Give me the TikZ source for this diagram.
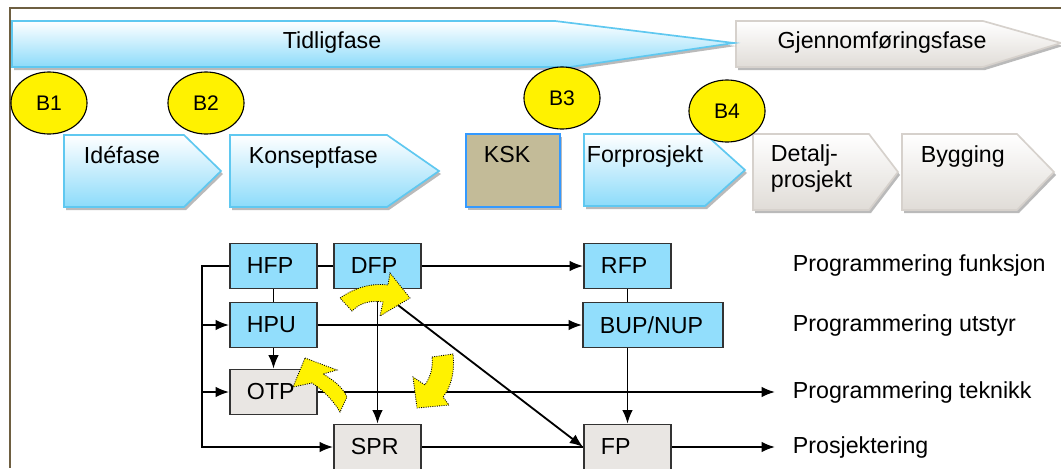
\documentclass[tikz,border=0pt]{standalone}
\usepackage{fontspec}
\setmainfont{Liberation Sans}
\usetikzlibrary{arrows.meta,shapes.geometric,shadows}

\definecolor{phasefill}{RGB}{140,219,250}
\definecolor{phaseline}{RGB}{95,200,240}
\definecolor{greyfill}{RGB}{224,220,215}
\definecolor{greyline}{RGB}{214,209,204}
\definecolor{boxblue}{RGB}{146,222,252}
\definecolor{boxgrey}{RGB}{233,230,227}
\definecolor{kskfill}{RGB}{195,187,152}
\definecolor{kskline}{RGB}{51,153,255}
\definecolor{framebrown}{RGB}{110,95,65}

\begin{document}
\begin{tikzpicture}[x=0.025cm, y=-0.025cm, line width=1.3pt,
    font=\fontsize{16.5}{17.8}\selectfont,
    arr/.style={-{Latex[length=9.5pt,width=7.5pt]}},
    phaseshade/.style={drop shadow={shadow xshift=0.05cm, shadow yshift=-0.075cm, opacity=0.45, fill=black!60}},
    bluephase/.style={phaseshade, draw=phaseline, line width=1.2pt, top color=white, bottom color=phasefill},
    greyphase/.style={phaseshade, draw=greyline, line width=1.2pt, top color=white, bottom color=greyfill},
    kskbox/.style={phaseshade, draw=kskline, line width=1.4pt, fill=kskfill},
    phasetext/.style={anchor=base west, inner sep=0pt},
    milestone/.style={ellipse, draw=black, line width=0.8pt, fill=yellow, minimum width=1.9cm,
        minimum height=1.55cm, inner sep=0pt, font=\fontsize{15}{18}\selectfont},
    box/.style={draw=black!80, minimum height=1.125cm, inner xsep=0.425cm, text width=1.325cm, align=left},
    bluebox/.style={box, fill=boxblue},
    greybox/.style={box, fill=boxgrey},
    lane/.style={anchor=west, inner xsep=0.425cm},
    swirl/.style={fill=yellow, draw=black, line width=0.6pt, dash pattern=on 0.7pt off 0.9pt}
    ]
    \useasboundingbox[fill=white] (0,0) rectangle (1061,468);
    \draw[framebrown, line width=1.5pt] (1061,8) -- (10,8) -- (10,468);

    % phases
    \path[greyphase] (736,21) -- (983,21) -- (1061,43) -- (983,67) -- (736,67) -- cycle;
    \path[bluephase] (12,21) -- (555,21) -- (734,43) -- (570,67) -- (12,67) -- cycle;
    \node[anchor=base] (tidlig) at (332,48) {Tidligfase};
    \node[anchor=base] (gjennom) at (882,48) {Gjennomføringsfase};

    \path[bluephase] (64,135) -- (184,135) -- (221,171) -- (184,207) -- (64,207) -- cycle;
    \path[bluephase] (230,135) -- (387,135) -- (439,171) -- (387,207) -- (230,207) -- cycle;
    \path[kskbox] (466,134) rectangle (560,207);
    \path[bluephase] (584,134) -- (705,134) -- (745,170) -- (705,206) -- (584,206) -- cycle;
    \path[greyphase] (753,134) -- (869,134) -- (898,172) -- (869,210) -- (753,210) -- cycle;
    \path[greyphase] (902,134) -- (1017,134) -- (1054,172) -- (1017,210) -- (902,210) -- cycle;

    \node[phasetext] (idefase) at (83,163) {Idéfase};
    \node[phasetext] (konsept) at (248,163) {Konseptfase};
    \node[phasetext] (ksk) at (483,162) {KSK};
    \node[phasetext] (forprosjekt) at (586,162) {Forprosjekt};
    \node[phasetext, align=left] (detalj) at (770,187) {Detalj-\\prosjekt};
    \node[phasetext] (bygging) at (920,162) {Bygging};

    % milestones
    \node[milestone] (b1) at (49,103) {B1};
    \node[milestone] (b2) at (206,103) {B2};
    \node[milestone] (b3) at (562,98) {B3};
    \node[milestone] (b4) at (727,111) {B4};

    % programme boxes
    \node[bluebox] (hfp) at (273.5,266) {HFP};
    \node[bluebox] (dfp) at (377.5,266) {DFP};
    \node[bluebox] (rfp) at (627.5,266) {RFP};
    \node[bluebox] (hpu) at (273.5,325) {HPU};
    \node[bluebox, text width=2.65cm] (bup) at (653,325) {BUP/NUP};
    \node[greybox] (otp) at (273.5,392) {OTP};
    \node[greybox] (spr) at (377.5,447) {SPR};
    \node[greybox] (fp) at (627.5,447) {FP};

    \node[lane] (funksjon) at (775,265) {Programmering funksjon};
    \node[lane] (utstyr) at (775,325) {Programmering utstyr};
    \node[lane] (teknikk) at (775,392) {Programmering teknikk};
    \node[lane] (prosjektering) at (775,447) {Prosjektering};

    % connectors
    \coordinate (bus) at (202,447);
    \draw[arr] (hfp.west) -| (bus) -- (spr.west);
    \draw[arr] (bus |- hpu.west) -- (hpu.west);
    \draw[arr] (bus |- otp.west) -- (otp.west);
    \draw (hfp) -- (dfp);
    \draw[arr] (dfp) -- (rfp);
    \draw (hfp) -- (hpu);
    \draw[arr] (hpu) -- (otp);
    \draw (rfp) -- (rfp |- bup.north);
    \draw[arr] (hpu) -- (hpu -| bup.west);
    \draw[arr] (dfp) -- (spr);
    \draw[arr] (dfp.south) -- (fp.west);
    \draw[arr] (otp) -- (teknikk.west);
    \draw[arr] (bup.south -| fp) -- (fp);
    \draw (spr) -- (fp);
    \draw[arr] (fp) -- (prosjektering.west);

    % yellow turn arrows
    \path[swirl] (340,298) .. controls (356,287) and (372,283) .. (388,285) -- (390,273) -- (410,298)
        -- (380,316) -- (383,302) .. controls (370,300) and (360,303) .. (352,311) -- cycle;
    \path[swirl] (305,358) -- (337,370) -- (323,374) .. controls (335,381) and (343,388) .. (347,397)
        -- (340,412) .. controls (333,400) and (323,390) .. (312,383) -- (293,387) -- cycle;
    \path[swirl] (432,357) -- (453,354) .. controls (455,372) and (451,387) .. (443,397) -- (449,405)
        -- (417,408) -- (413,377) -- (425,385) .. controls (431,376) and (433,367) .. (432,357) -- cycle;
\end{tikzpicture}
\end{document}
